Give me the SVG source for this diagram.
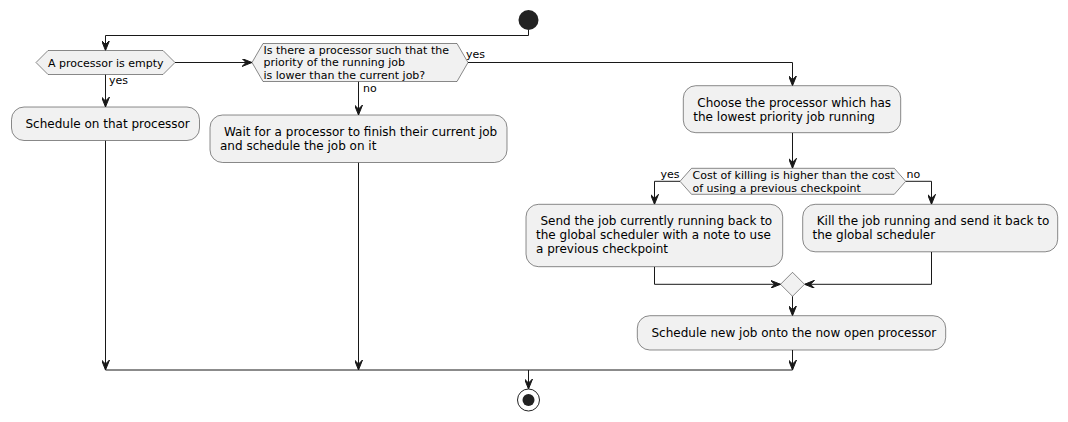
<svg xmlns="http://www.w3.org/2000/svg" width="1068" height="422" viewBox="0 0 1068 422">
<style>
.box{fill:#F1F1F1;stroke:#181818;stroke-width:0.5}
.t{font-family:"DejaVu Sans",sans-serif;font-size:12px;fill:#000}
.d{font-family:"DejaVu Sans",sans-serif;font-size:11px;fill:#000}
.c{fill:none;stroke:#181818;stroke-width:1}
.ca{fill:none;stroke:#181818;stroke-width:1;marker-end:url(#ah)}
</style>
<defs>
<marker id="ah" markerUnits="userSpaceOnUse" markerWidth="10" markerHeight="8" refX="10" refY="4" orient="auto" viewBox="0 0 10 8">
<path d="M0,0 L10,4 L0,8 L4,4 Z" fill="#181818" stroke="#181818" stroke-width="1"/>
</marker>
</defs>
<rect width="1068" height="422" fill="#FFFFFF"/>
<g id="connectors">
<path class="ca" d="M528.5,30 V35.5 H105.5 V50.5"/>
<path class="ca" d="M175,62.5 H252"/>
<path class="ca" d="M105.5,74.5 V107"/>
<path class="ca" d="M358.5,81.5 V115"/>
<path class="ca" d="M468,62.5 H792.5 V85.7"/>
<path class="ca" d="M792.5,132.7 V168.3"/>
<path class="ca" d="M680,181.3 H654.5 V204.3"/>
<path class="ca" d="M905.7,181.3 H931.5 V204.3"/>
<path class="ca" d="M654.5,266.7 V284.3 H780.5"/>
<path class="ca" d="M931.5,252 V284.3 H804.5"/>
<path class="ca" d="M792.5,296.3 V315.7"/>
<path class="ca" d="M792.5,350 V370"/>
<path class="ca" d="M105.5,140.5 V370"/>
<path class="ca" d="M358.5,162.5 V370"/>
<path class="c" d="M105.5,370 H792.5"/>
<path class="ca" d="M528.5,370 V389"/>
<text class="d" x="109" y="83.5">yes</text>
<text class="d" x="466" y="58">yes</text>
<text class="d" x="363" y="91.5">no</text>
<text class="d" x="660.5" y="178.3">yes</text>
<text class="d" x="906.5" y="178.3">no</text>
</g>
<g id="start"><circle cx="528.5" cy="20" r="10" fill="#222222"/></g>
<g id="d1">
<polygon class="box" points="36,62.5 48,50.5 163,50.5 175,62.5 163,74.5 48,74.5"/>
<text class="d" x="48" y="66.5">A processor is empty</text>
</g>
<g id="d2">
<polygon class="box" points="252,62.5 263,43.5 457,43.5 468,62.5 457,81.5 263,81.5"/>
<text class="d" x="263.5" y="53.5">Is there a processor such that the</text>
<text class="d" x="263.5" y="66">priority of the running job</text>
<text class="d" x="263.5" y="78.5">is lower than the current job?</text>
</g>
<g id="schedule">
<rect class="box" x="11.5" y="107" width="188" height="33.5" rx="12.5" ry="12.5"/>
<text class="t" x="25.5" y="128.3">Schedule on that processor</text>
</g>
<g id="wait">
<rect class="box" x="210" y="115" width="297" height="47.5" rx="12.5" ry="12.5"/>
<text class="t" x="224" y="136">Wait for a processor to finish their current job</text>
<text class="t" x="220" y="150">and schedule the job on it</text>
</g>
<g id="choose">
<rect class="box" x="683.3" y="85.7" width="217.4" height="47" rx="12.5" ry="12.5"/>
<text class="t" x="697.3" y="106.5">Choose the processor which has</text>
<text class="t" x="693.3" y="120.5">the lowest priority job running</text>
</g>
<g id="d3">
<polygon class="box" points="680,181.3 691.5,168.3 894.3,168.3 905.7,181.3 894.3,194.3 691.5,194.3"/>
<text class="d" x="692.5" y="179">Cost of killing is higher than the cost</text>
<text class="d" x="692.5" y="191.5">of using a previous checkpoint</text>
</g>
<g id="send">
<rect class="box" x="526" y="204.3" width="256.7" height="62.4" rx="12.5" ry="12.5"/>
<text class="t" x="540.5" y="225">Send the job currently running back to</text>
<text class="t" x="536" y="239">the global scheduler with a note to use</text>
<text class="t" x="536" y="253">a previous checkpoint</text>
</g>
<g id="kill">
<rect class="box" x="802.7" y="204.3" width="255" height="47.5" rx="12.5" ry="12.5"/>
<text class="t" x="816.7" y="225">Kill the job running and send it back to</text>
<text class="t" x="812.5" y="239">the global scheduler</text>
</g>
<g id="merge">
<polygon class="box" points="780.5,284.3 792.5,272.3 804.5,284.3 792.5,296.3"/>
</g>
<g id="schedulenew">
<rect class="box" x="637.3" y="315.7" width="308.4" height="34.3" rx="12.5" ry="12.5"/>
<text class="t" x="651.5" y="336.5">Schedule new job onto the now open processor</text>
</g>
<g id="end">
<circle cx="528.5" cy="400" r="11" fill="none" stroke="#222222" stroke-width="1"/>
<circle cx="528.5" cy="400" r="6" fill="#222222"/>
</g>
</svg>
